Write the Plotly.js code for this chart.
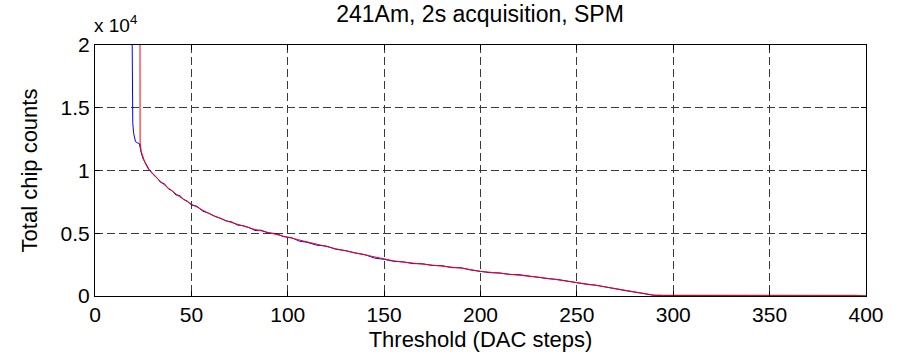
<!DOCTYPE html>
<html>
<head>
<meta charset="utf-8">
<script src="https://cdn.plot.ly/plotly-3.0.1.min.js"></script>
<style>
  html, body { margin: 0; padding: 0; background: #fff; }
  #chart { width: 904px; height: 364px; }
</style>
</head>
<body>
<div id="chart"></div>
<script>
// Threshold scan, total chip counts (units of 1e4) versus DAC threshold.
const blueX = [19, 19.3, 19.6, 20, 20.5, 21, 22, 23, 24, 25, 26, 27, 28, 30, 32, 34, 36, 38, 40,
  42, 44, 46, 48, 50, 53, 56, 59, 62, 65, 68, 71, 74, 77, 80, 83, 86, 90, 94, 98, 102, 106, 110,
  115, 120, 125, 130, 135, 140, 145, 150, 155, 160, 165, 170, 175, 180, 185, 190, 195, 200, 205,
  210, 215, 220, 225, 230, 235, 240, 245, 250, 255, 260, 265, 270, 275, 280, 285, 288, 290, 295,
  300, 310, 320, 330, 340, 350, 360, 370, 380, 390, 395, 400];
const blueY = [2.6, 1.46, 1.38, 1.30, 1.25, 1.23, 1.22, 1.215, 1.14, 1.09, 1.065, 1.035, 1.01,
  0.975, 0.945, 0.905, 0.895, 0.855, 0.84, 0.805, 0.80, 0.77, 0.755, 0.725, 0.715, 0.675, 0.66,
  0.635, 0.62, 0.598, 0.59, 0.565, 0.56, 0.545, 0.522, 0.525, 0.502, 0.498, 0.472, 0.465, 0.437,
  0.428, 0.405, 0.398, 0.372, 0.362, 0.342, 0.33, 0.302, 0.292, 0.276, 0.272, 0.258, 0.257,
  0.243, 0.242, 0.226, 0.225, 0.207, 0.196, 0.186, 0.184, 0.172, 0.17, 0.158, 0.151, 0.138,
  0.132, 0.118, 0.109, 0.093, 0.086, 0.07, 0.059, 0.043, 0.031, 0.02, 0.01, 0.005, 0.004,
  0.003, 0.004, 0.002, 0.003, 0.002, 0.003, 0.002, 0.002, 0.003, 0.002, 0.002, 0.0];

const redX = [23.3, 23.4, 24, 25, 26, 27, 28, 30, 32, 34, 36, 38, 40, 42, 44, 46, 48, 50, 53, 56,
  59, 62, 65, 68, 71, 74, 77, 80, 83, 86, 90, 94, 98, 102, 106, 110, 115, 120, 125, 130, 135,
  140, 145, 150, 155, 160, 165, 170, 175, 180, 185, 190, 195, 200, 205, 210, 215, 220, 225, 230,
  235, 240, 245, 250, 255, 260, 265, 270, 275, 280, 285, 288, 290, 295, 300, 310, 320, 330, 340,
  350, 360, 370, 380, 390, 395, 400];
const redY = [2.6, 1.22, 1.15, 1.095, 1.06, 1.03, 1.005, 0.97, 0.94, 0.91, 0.885, 0.86, 0.835,
  0.812, 0.79, 0.77, 0.75, 0.732, 0.708, 0.68, 0.658, 0.638, 0.617, 0.6, 0.585, 0.57, 0.556,
  0.543, 0.53, 0.52, 0.505, 0.492, 0.476, 0.46, 0.442, 0.427, 0.41, 0.394, 0.376, 0.36, 0.344,
  0.326, 0.306, 0.292, 0.28, 0.27, 0.262, 0.255, 0.248, 0.24, 0.232, 0.222, 0.21, 0.196, 0.189,
  0.182, 0.175, 0.168, 0.16, 0.15, 0.14, 0.13, 0.12, 0.108, 0.095, 0.085, 0.072, 0.058, 0.045,
  0.03, 0.02, 0.011, 0.007, 0.006, 0.006, 0.008, 0.007, 0.009, 0.006, 0.01, 0.007, 0.009,
  0.008, 0.007, 0.005, 0.0];

const xTicks = [0, 50, 100, 150, 200, 250, 300, 350, 400];
const yTicks = [0, 0.5, 1, 1.5, 2];
const yTickText = ['0', '0.5', '1', '1.5', '2'];

const FONT = 'Liberation Sans, Arial, Helvetica, sans-serif';

const traces = [
  { x: blueX, y: blueY, type: 'scatter', mode: 'lines', line: { color: '#0000ff', width: 1 }, hoverinfo: 'skip' },
  { x: redX, y: redY, type: 'scatter', mode: 'lines', line: { color: '#ff0000', width: 1 }, hoverinfo: 'skip' }
];

const axisCommon = {
  showline: true, linecolor: '#000', linewidth: 1, mirror: 'ticks',
  ticks: 'inside', ticklen: 5, tickcolor: '#000', tickwidth: 1,
  showgrid: true, gridcolor: '#3a3a3a', gridwidth: 1, griddash: '8px,4px',
  zeroline: false, tickfont: { family: FONT, size: 21, color: '#000' }
};

const layout = {
  width: 904, height: 364,
  margin: { l: 95, r: 38, t: 45, b: 68 },
  paper_bgcolor: '#fff', plot_bgcolor: '#fff',
  showlegend: false,
  font: { family: FONT, color: '#000' },
  title: { text: '241Am, 2s acquisition, SPM', font: { family: FONT, size: 23, color: '#000' },
    x: 0.531, xanchor: 'center', y: 0.962, yanchor: 'middle' },
  xaxis: Object.assign({}, axisCommon, {
    range: [0, 400], tickmode: 'array', tickvals: xTicks,
    title: { text: 'Threshold (DAC steps)', font: { family: FONT, size: 22, color: '#000' }, standoff: 6 }
  }),
  yaxis: Object.assign({}, axisCommon, {
    range: [0, 2], tickmode: 'array', tickvals: yTicks, ticktext: yTickText,
    title: { text: 'Total chip counts', font: { family: FONT, size: 22, color: '#000' }, standoff: 16 }
  }),
  annotations: [{
    text: 'x 10<sup>4</sup>', xref: 'paper', yref: 'paper', x: 0, y: 1,
    xanchor: 'left', yanchor: 'bottom', xshift: -3, yshift: 7, showarrow: false,
    font: { family: FONT, size: 19, color: '#000' }
  }]
};

Plotly.newPlot('chart', traces, layout, { staticPlot: true, displayModeBar: false });
</script>
</body>
</html>
